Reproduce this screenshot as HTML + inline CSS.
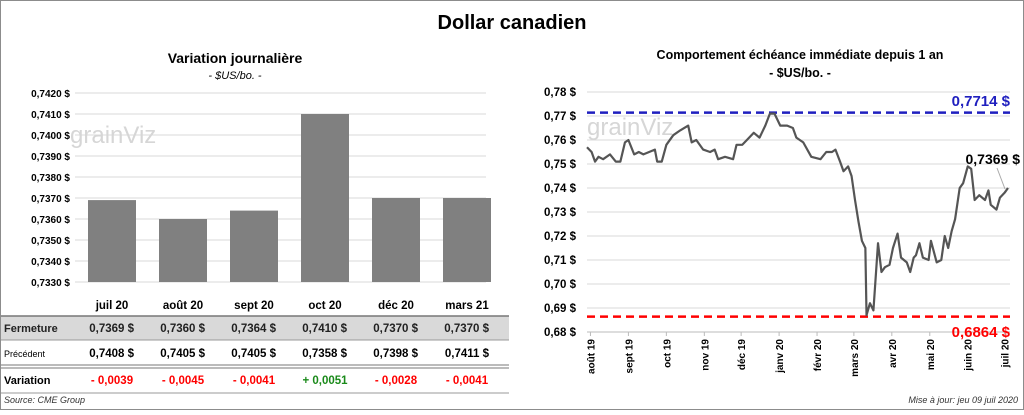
<!DOCTYPE html>
<html><head><meta charset="utf-8"><style>
body{margin:0;width:1024px;height:410px;overflow:hidden;background:#fff;font-family:"Liberation Sans",sans-serif}
svg text{font-family:"Liberation Sans",sans-serif}
</style></head><body>
<svg id="s" width="1024" height="410">
<rect x="0.5" y="0.5" width="1023" height="409" fill="#fff" stroke="#8c8c8c"/>
<text x="512" y="29" text-anchor="middle" font-size="20" font-weight="bold">Dollar canadien</text>
<text x="235" y="63" text-anchor="middle" font-size="14" font-weight="bold">Variation journalière</text>
<text x="235" y="79" text-anchor="middle" font-size="11" font-style="italic">- $US/bo. -</text>
<text x="800" y="59" text-anchor="middle" font-size="12.5" font-weight="bold">Comportement échéance immédiate depuis 1 an</text>
<text x="800" y="77" text-anchor="middle" font-size="12.5" font-weight="bold">- $US/bo. -</text>
<g id="left"></g><g id="right"></g><g id="table"></g>
<text x="4" y="403" font-size="9" font-style="italic" fill="#333">Source: CME Group</text>
<text x="1018" y="403" text-anchor="end" font-size="9" font-style="italic" fill="#333">Mise à jour: jeu 09 juil 2020</text>
</svg>
<script>
const barCats=["juil 20","août 20","sept 20","oct 20","déc 20","mars 21"];
const closeVals=[0.7369,0.7360,0.7364,0.7410,0.7370,0.7370];
const prevVals=[0.7408,0.7405,0.7405,0.7358,0.7398,0.7411];
const varVals=[-0.0039,-0.0045,-0.0041,0.0051,-0.0028,-0.0041];
const leftTicks=[0.7330,0.7340,0.7350,0.7360,0.7370,0.7380,0.7390,0.7400,0.7410,0.7420];
const lineDays=[0,4,7,10,14,20,25,29,33,36,41,45,49,54,59,61,65,69,75,81,88,91,95,101,107,111,114,120,127,130,135,139,145,150,155,159,163,168,174,179,182,188,195,203,208,213,216,220,223,227,230,233,236,239,242,243,246,249,253,256,259,263,266,270,273,278,281,284,286,289,292,297,299,304,308,311,314,317,320,324,327,331,334,337,341,346,349,351,356,359,363,366];
const lineVals=[0.757,0.755,0.751,0.753,0.752,0.754,0.751,0.751,0.759,0.760,0.754,0.755,0.754,0.755,0.756,0.751,0.751,0.758,0.762,0.764,0.766,0.759,0.760,0.756,0.755,0.756,0.752,0.753,0.752,0.758,0.758,0.760,0.763,0.761,0.766,0.771,0.771,0.766,0.766,0.765,0.761,0.759,0.753,0.752,0.755,0.755,0.756,0.751,0.747,0.749,0.745,0.735,0.726,0.718,0.715,0.687,0.692,0.689,0.717,0.705,0.707,0.708,0.715,0.721,0.711,0.709,0.705,0.711,0.712,0.717,0.711,0.710,0.718,0.709,0.710,0.720,0.715,0.722,0.727,0.740,0.742,0.749,0.748,0.735,0.737,0.735,0.739,0.733,0.731,0.736,0.738,0.740];
const rightTicks=[0.68,0.69,0.70,0.71,0.72,0.73,0.74,0.75,0.76,0.77,0.78];
const monthLabels=["août 19","sept 19","oct 19","nov 19","déc 19","janv 20","févr 20","mars 20","avr 20","mai 20","juin 20","juil 20"];
const monthDays=[3,36,69,102,134,167,200,232,265,298,331,363];
const maxVal=0.7714, minVal=0.6864, lastVal=0.7369;
const NS="http://www.w3.org/2000/svg";
function mk(p,t,a,txt){const e=document.createElementNS(NS,t);for(const k in a)e.setAttribute(k,a[k]);if(txt!==undefined)e.textContent=txt;p.appendChild(e);return e;}
const fmt=(v,d)=>v.toFixed(d).replace('.',',');
// left
const L=document.getElementById('left');
const ly=v=>93+(0.7420-v)/0.009*189;
const bx=i=>112+i*71;
leftTicks.forEach(t=>{const g=mk(L,'line',{x1:75,x2:486,y1:ly(t),y2:ly(t),stroke:'#d9d9d9'});

const tx=mk(L,'text',{x:70,y:ly(t)+4,'text-anchor':'end','font-size':10,'font-weight':'bold'},fmt(t,4)+' $');
});
const wm=mk(L,'text',{x:70,y:143,'font-size':24,fill:'#d6d6d6'},'grainViz');
closeVals.forEach((v,i)=>{const r=mk(L,'rect',{x:bx(i)-24,y:ly(v),width:48,height:ly(0.7330)-ly(v),fill:'#808080'});
});
// table
const T=document.getElementById('table');
mk(T,'rect',{x:1,y:316,width:508,height:24,fill:'#d9d9d9'});
mk(T,'line',{x1:1,x2:509,y1:316,y2:316,stroke:'#777','stroke-width':1.5});
mk(T,'line',{x1:1,x2:509,y1:340,y2:340,stroke:'#999'});
mk(T,'line',{x1:1,x2:509,y1:365,y2:365,stroke:'#777'});
mk(T,'line',{x1:1,x2:509,y1:368,y2:368,stroke:'#777'});
mk(T,'line',{x1:1,x2:509,y1:393,y2:393,stroke:'#999'});
mk(T,'text',{x:4,y:332,'font-size':11,'font-weight':'bold',fill:'#222'},'Fermeture');
mk(T,'text',{x:4,y:357,'font-size':9},'Précédent');
mk(T,'text',{x:4,y:384,'font-size':11,'font-weight':'bold'},'Variation');
barCats.forEach((c,i)=>{
 const h=mk(T,'text',{x:bx(i),y:309,'text-anchor':'middle','font-size':11.5,'font-weight':'bold'},c);
 
 mk(T,'text',{x:bx(i)+22,y:332,'text-anchor':'end','font-size':11.5,'font-weight':'bold',fill:'#222'},fmt(closeVals[i],4)+'  $');
 mk(T,'text',{x:bx(i)+22,y:357,'text-anchor':'end','font-size':11.5,'font-weight':'bold'},fmt(prevVals[i],4)+'  $');
 const d=varVals[i];
 mk(T,'text',{x:bx(i),y:384,'text-anchor':'middle','font-size':11.5,'font-weight':'bold',fill:d>=0?'#1a8a1a':'#f00'},(d>=0?'+ ':'- ')+fmt(Math.abs(d),4));
});
// right
const R=document.getElementById('right');
const ry=v=>92+(0.78-v)/0.10*240;
const rx=d=>587+d/366*421;
rightTicks.forEach(t=>{const g=mk(R,'line',{x1:587,x2:1010,y1:ry(t),y2:ry(t),stroke:'#d9d9d9'});

const tx=mk(R,'text',{x:576,y:ry(t)+4,'text-anchor':'end','font-size':11.5,'font-weight':'bold'},fmt(t,2)+' $');
});
mk(R,'line',{x1:587,x2:1010,y1:332,y2:332,stroke:'#bbb'});
const wm2=mk(R,'text',{x:587,y:135,'font-size':24,fill:'#d6d6d6'},'grainViz');
monthDays.forEach((d,i)=>{mk(R,'line',{x1:rx(d),x2:rx(d),y1:332,y2:336,stroke:'#bbb'});
const tx=mk(R,'text',{transform:`translate(${rx(d)+4},${339}) rotate(-90)`,'text-anchor':'end','font-size':10,'font-weight':'bold'},monthLabels[i]);
});
const mx=mk(R,'line',{x1:587,x2:1010,y1:ry(maxVal),y2:ry(maxVal),stroke:'#1f1fbf','stroke-width':2.5,'stroke-dasharray':'8,5'});

const mn=mk(R,'line',{x1:587,x2:1010,y1:ry(minVal),y2:ry(minVal),stroke:'#f00','stroke-width':2.5,'stroke-dasharray':'8,5'});

mk(R,'text',{x:1010,y:106,'text-anchor':'end','font-size':15,'font-weight':'bold',fill:'#1f1fbf'},fmt(maxVal,4)+' $');
mk(R,'text',{x:1010,y:337,'text-anchor':'end','font-size':15,'font-weight':'bold',fill:'#f00'},fmt(minVal,4)+' $');
const pl=mk(R,'polyline',{points:lineDays.map((d,i)=>rx(d)+','+ry(lineVals[i])).join(' '),fill:'none',stroke:'#555','stroke-width':2.2,'stroke-linejoin':'round'});

mk(R,'line',{x1:997,x2:1005,y1:168,y2:189,stroke:'#aaa'});
const lb=mk(R,'text',{x:1020,y:164,'text-anchor':'end','font-size':14,'font-weight':'bold'},fmt(lastVal,4)+' $');

</script>
</body></html>
